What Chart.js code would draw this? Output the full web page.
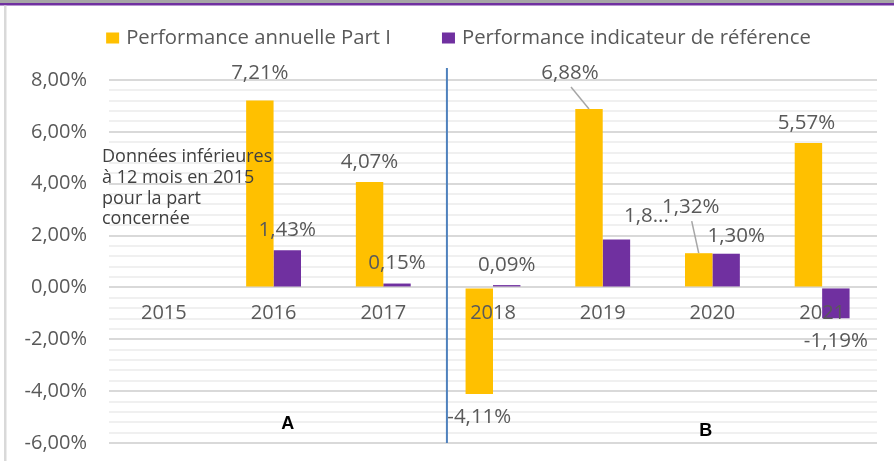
<!DOCTYPE html>
<html>
<head>
<meta charset="utf-8">
<script src="https://cdn.jsdelivr.net/npm/chart.js@4/dist/chart.umd.min.js"></script>
<style>
  html, body { margin: 0; padding: 0; background: #fff; }
  canvas { display: block; }
</style>
</head>
<body>
<canvas id="chart1" width="894" height="461"></canvas>
<script>
// data
var years = ['2015', '2016', '2017', '2018', '2019', '2020', '2021'];
var partI = [null, 7.21, 4.07, -4.11, 6.88, 1.32, 5.57];
var indicateur = [null, 1.43, 0.15, 0.09, 1.85, 1.30, -1.19];
var seriesNames = ['Performance annuelle Part I', 'Performance indicateur de r\u00e9f\u00e9rence'];
var yTicks = [-6, -4, -2, 0, 2, 4, 6, 8];
var noteLines = ['Donn\u00e9es inf\u00e9rieures', '\u00e0 12 mois en 2015', 'pour la part', 'concern\u00e9e'];

// label tweaks (moved labels in the original)
var labelShift = [
  [null, [0, -7], [0, 0], [0, 0], [-19, -16], [-8, -26], [-2, 0]],
  [null, [0, 0], [0, 0], [0, 0], [30, -3], [10, 2], [0, 0]]
];
var leaderLines = [[4, 5], []];
var shortLabels = { '1-4': '1,8...' };

var yellow = '#ffc000';
var purple = '#7030a0';
var textGrey = '#595959';

function fmt(v) {
  return v.toFixed(2).replace('.', ',') + '%';
}
function isMajor(v) {
  return yTicks.some(function (t) { return Math.abs(t - v) < 1e-6; });
}

var decor = {
  id: 'decor',
  beforeDraw: function (chart) {
    var c = chart.ctx;
    c.save();
    c.fillStyle = '#fff';
    c.fillRect(0, 0, chart.width, chart.height);
    c.fillStyle = '#a6a6a6';
    c.fillRect(0, 0, chart.width, 3);
    c.fillStyle = purple;
    c.fillRect(0, 3, chart.width, 2.5);
    c.fillStyle = '#d9d9d9';
    c.fillRect(4, 5.5, 2.5, chart.height);
    c.restore();
  },
  afterDraw: function (chart) {
    var c = chart.ctx;
    var xs = chart.scales.x, ys = chart.scales.y;
    var y0 = ys.getPixelForValue(0);
    c.save();

    // category labels sit under the zero line
    c.font = '20px "Open Sans"';
    c.fillStyle = textGrey;
    c.textAlign = 'center';
    c.textBaseline = 'middle';
    years.forEach(function (y, i) {
      c.fillText(y, xs.getPixelForValue(i), y0 + 26);
    });

    // data labels
    chart.data.datasets.forEach(function (ds, d) {
      var meta = chart.getDatasetMeta(d);
      meta.data.forEach(function (bar, i) {
        var v = ds.data[i];
        if (v === null) return;
        var sh = labelShift[d][i] || [0, 0];
        var lx = bar.x + sh[0];
        var ly = (v >= 0 ? bar.y - 20 : bar.y + 23) + sh[1];
        if (leaderLines[d].indexOf(i) >= 0) {
          c.strokeStyle = '#a6a6a6';
          c.lineWidth = 1.5;
          c.beginPath();
          c.moveTo(lx + 1, ly + 14);
          c.lineTo(bar.x, bar.y);
          c.stroke();
        }
        var txt = shortLabels[d + '-' + i] || fmt(v);
        c.fillStyle = textGrey;
        c.font = '20.5px "Open Sans"';
        c.fillText(txt, lx, ly);
      });
    });

    // separator line between A and B
    var sx = xs.getPixelForValue(2.58);
    c.strokeStyle = '#4f81bd';
    c.lineWidth = 2;
    c.beginPath();
    c.moveTo(sx, chart.chartArea.top - 12);
    c.lineTo(sx, chart.chartArea.bottom);
    c.stroke();

    // A / B
    c.fillStyle = '#000';
    c.font = 'bold 18px "Liberation Sans"';
    c.fillText('A', xs.getPixelForValue(1.13), ys.getPixelForValue(-5.25));
    c.fillText('B', xs.getPixelForValue(4.94), ys.getPixelForValue(-5.55));

    // note about 2015
    c.fillStyle = '#404040';
    c.font = '18px "Open Sans"';
    c.textAlign = 'left';
    noteLines.forEach(function (t, k) {
      c.fillText(t, xs.left - 7, ys.getPixelForValue(5.02) + k * 20.7);
    });

    // legend
    c.font = '20.3px "Open Sans"';
    var w1 = c.measureText(seriesNames[0]).width;
    var w2 = c.measureText(seriesNames[1]).width;
    var total = 13 + 7 + w1 + 51 + 13 + 7 + w2;
    var lx0 = 458.5 - total / 2;
    var ly0 = 38;
    c.fillStyle = yellow;
    c.fillRect(lx0, ly0 - 5.5, 13, 11);
    c.fillStyle = textGrey;
    c.fillText(seriesNames[0], lx0 + 20, ly0);
    var lx1 = lx0 + 20 + w1 + 51;
    c.fillStyle = purple;
    c.fillRect(lx1, ly0 - 5.5, 13, 11);
    c.fillStyle = textGrey;
    c.fillText(seriesNames[1], lx1 + 20, ly0);

    c.restore();
  }
};

var ctx = document.getElementById('chart1').getContext('2d');
var myChart = new Chart(ctx, {
  type: 'bar',
  data: {
    labels: years,
    datasets: [{
      label: seriesNames[0],
      data: partI,
      backgroundColor: yellow,
      borderWidth: 0
    }, {
      label: seriesNames[1],
      data: indicateur,
      backgroundColor: purple,
      borderWidth: 0
    }]
  },
  options: {
    responsive: false,
    animation: false,
    categoryPercentage: 0.5,
    barPercentage: 1.0,
    layout: {
      padding: { top: 80, right: 17, bottom: 18, left: 0 }
    },
    plugins: {
      legend: { display: false },
      tooltip: { enabled: false }
    },
    scales: {
      x: {
        display: false
      },
      y: {
        min: yTicks[0],
        max: yTicks[yTicks.length - 1],
        afterFit: function (scale) { scale.width = 109; },
        border: { display: false },
        grid: {
          drawTicks: true,
          tickLength: 22,
          tickColor: 'rgba(0,0,0,0)',
          color: function (c) { return isMajor(c.tick.value) ? '#d9d9d9' : '#f0f0f0'; },
          lineWidth: 2
        },
        ticks: {
          stepSize: 0.4,
          autoSkip: false,
          padding: 0,
          color: textGrey,
          font: { family: 'Open Sans', size: 20 },
          callback: function (v) { return isMajor(v) ? fmt(v) : ''; }
        }
      }
    }
  },
  plugins: [decor]
});
</script>
</body>
</html>
